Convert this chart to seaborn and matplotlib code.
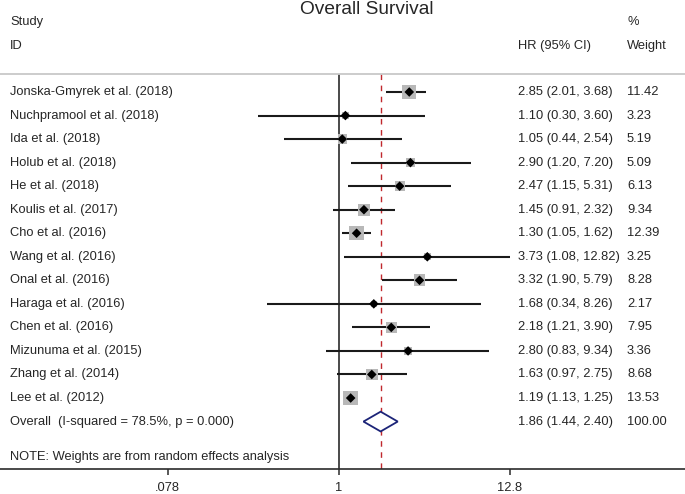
import matplotlib
matplotlib.use("Agg")
import matplotlib.pyplot as plt
import matplotlib.transforms as mtransforms
import seaborn as sns
import numpy as np
import pandas as pd

studies = ["Jonska-Gmyrek et al. (2018)", "Nuchpramool et al. (2018)", "Ida et al. (2018)",
           "Holub et al. (2018)", "He et al. (2018)", "Koulis et al. (2017)", "Cho et al. (2016)",
           "Wang et al. (2016)", "Onal et al. (2016)", "Haraga et al. (2016)", "Chen et al. (2016)",
           "Mizunuma et al. (2015)", "Zhang et al. (2014)", "Lee et al. (2012)"]
hr = [2.85, 1.10, 1.05, 2.90, 2.47, 1.45, 1.30, 3.73, 3.32, 1.68, 2.18, 2.80, 1.63, 1.19]
lower = [2.01, 0.30, 0.44, 1.20, 1.15, 0.91, 1.05, 1.08, 1.90, 0.34, 1.21, 0.83, 0.97, 1.13]
upper = [3.68, 3.60, 2.54, 7.20, 5.31, 2.32, 1.62, 12.82, 5.79, 8.26, 3.90, 9.34, 2.75, 1.25]
weight = [11.42, 3.23, 5.19, 5.09, 6.13, 9.34, 12.39, 3.25, 8.28, 2.17, 7.95, 3.36, 8.68, 13.53]

overall_label = "Overall  (I-squared = 78.5%, p = 0.000)"
overall_hr, overall_lo, overall_hi, overall_w = 1.86, 1.44, 2.40, 100.00
tick_vals = [0.078, 1, 12.8]
tick_labels = [".078", "1", "12.8"]

df = pd.DataFrame({"study": studies, "hr": hr, "lo": lower, "hi": upper, "w": weight})
df["row"] = np.arange(len(df))
overall_row = len(df)

sns.set_style("white")
plt.rcParams["font.family"] = ["Liberation Sans", "DejaVu Sans"]

W, H = 685, 494
fig = plt.figure(figsize=(W / 100, H / 100), dpi=100)
ax = fig.add_axes([0, 25 / H, 1, 469 / H])

# pixel layout: first row at y=92, spacing 23.54 px, axis line at y=469
y0, dy = 92, 23.54
def prow(py):
    return (py - y0) / dy

px_per_ln = 1 / 0.014906
x_one = 339
ax.set_xscale("log")
ax.set_xlim(np.exp(-x_one / px_per_ln), np.exp((W - x_one) / px_per_ln))
ax.set_ylim(prow(469), prow(0))

# CI lines
ax.hlines(df["row"], df["lo"], df["hi"], color="#1a1a1a", lw=1.5, zorder=2)

# weight boxes (area proportional to weight)
k = 8.5
sns.scatterplot(data=df, x="hr", y="row", size="w", sizes=(k * min(weight), k * max(weight)),
                size_norm=(min(weight), max(weight)), marker="s", color="#b8b8b8",
                edgecolor="none", legend=False, ax=ax, zorder=3)
sns.scatterplot(data=df, x="hr", y="row", marker="D", s=24, color="black",
                edgecolor="none", ax=ax, zorder=4)

# overall diamond
h = 0.42
ax.fill([overall_lo, overall_hr, overall_hi, overall_hr, overall_lo],
        [overall_row, overall_row - h, overall_row, overall_row + h, overall_row],
        facecolor="white", edgecolor="#1c2478", lw=1.3, zorder=4)

top = prow(74)
ax.vlines(1, top, prow(469), color="#2b2b2b", lw=1.2, zorder=1)
ax.vlines(overall_hr, top, prow(469), color="#c0282d", lw=1.0, linestyles=(0, (4, 4)), zorder=1)
ax.axhline(top, color="#c8c8c8", lw=1.3)

# axis
for s in ["top", "left", "right"]:
    ax.spines[s].set_visible(False)
ax.spines["bottom"].set_color("#2b2b2b")
ax.spines["bottom"].set_linewidth(1.2)
ax.set_xticks(tick_vals)
ax.set_xticklabels(tick_labels)
ax.xaxis.set_minor_locator(matplotlib.ticker.NullLocator())
ax.tick_params(axis="x", bottom=True, direction="out", length=4.5, width=1.1, color="#2b2b2b",
               pad=5, labelsize=9.3)
ax.set_yticks([])
ax.set_xlabel("")
ax.set_ylabel("")

# text columns
tr = mtransforms.blended_transform_factory(ax.transAxes, ax.transData)
fs = 9.3
col_study, col_hr, col_w = 10 / W, 518 / W, 627 / W
for r, s, e, l, u, w in zip(df["row"], studies, hr, lower, upper, weight):
    ax.text(col_study, r, s, transform=tr, va="center", ha="left", fontsize=fs)
    ax.text(col_hr, r, f"{e:.2f} ({l:.2f}, {u:.2f})", transform=tr, va="center", ha="left", fontsize=fs)
    ax.text(col_w, r, f"{w:.2f}", transform=tr, va="center", ha="left", fontsize=fs)

ax.text(col_study, overall_row, overall_label, transform=tr, va="center", ha="left", fontsize=fs)
ax.text(col_hr, overall_row, f"{overall_hr:.2f} ({overall_lo:.2f}, {overall_hi:.2f})",
        transform=tr, va="center", ha="left", fontsize=fs)
ax.text(col_w, overall_row, f"{overall_w:.2f}", transform=tr, va="center", ha="left", fontsize=fs)
ax.text(col_study, prow(457), "NOTE: Weights are from random effects analysis",
        transform=tr, va="center", ha="left", fontsize=fs)

ax.text(col_study, prow(22), "Study", transform=tr, va="center", ha="left", fontsize=fs)
ax.text(col_study, prow(46), "ID", transform=tr, va="center", ha="left", fontsize=fs)
ax.text(col_hr, prow(46), "HR (95% CI)", transform=tr, va="center", ha="left", fontsize=fs)
ax.text(col_w, prow(22), "%", transform=tr, va="center", ha="left", fontsize=fs)
ax.text(col_w, prow(46), "Weight", transform=tr, va="center", ha="left", fontsize=fs)
ax.text(366.5 / W, prow(10), "Overall Survival", transform=tr, va="center", ha="center", fontsize=13.8)

fig.savefig("out.png", dpi=100)
